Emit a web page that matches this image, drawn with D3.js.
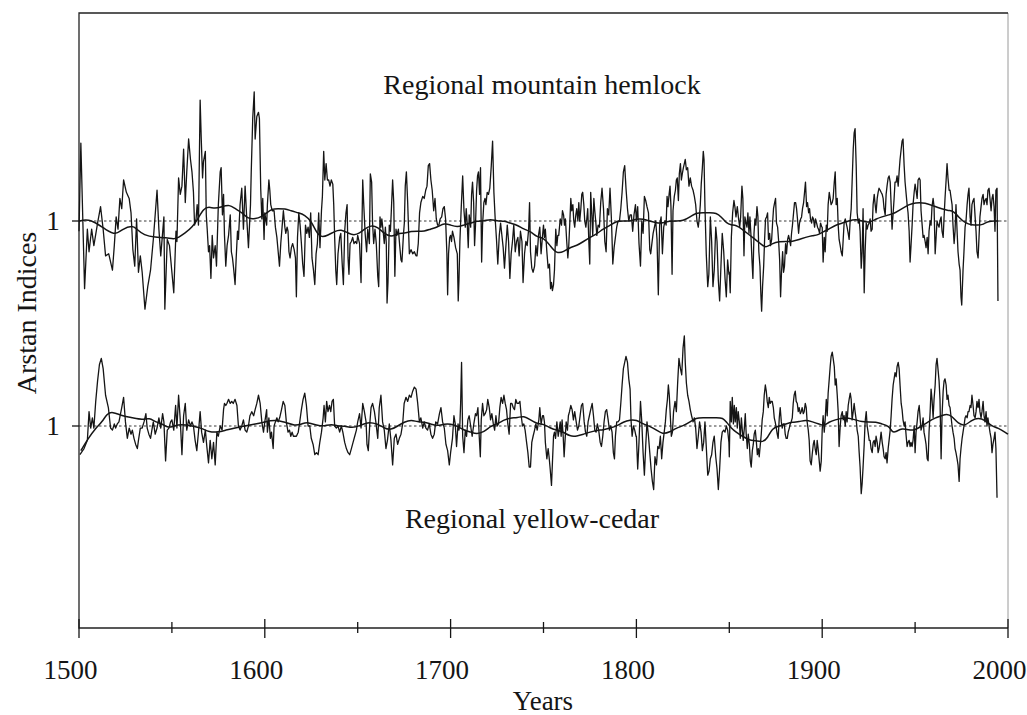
<!DOCTYPE html>
<html><head><meta charset="utf-8">
<script src="https://cdn.jsdelivr.net/npm/d3@7"></script>
<style>body{margin:0;background:#fff}</style>
</head><body>
<svg id="chart" width="1027" height="715"></svg>
<script>
// Regional mountain hemlock Arstan index (year, index)
const hemlockIndex = [
[1500,0.95],[1501,1.38],[1503,0.67],[1504.5,0.96],[1505.4,0.85],[1506.8,0.96],[1508,0.88],[1510,0.99],[1511.6,1.07],[1513,0.96],[1514.3,0.83],[1516,0.84],[1518,0.76],[1519,0.88],[1520,1.02],[1521,0.96],[1522,1.11],[1523,1.06],[1524,1.2],[1525.5,1.14],[1527,1.11],[1528,1.04],[1529,0.86],[1530,0.78],[1531,1.01],[1532,0.75],[1533,0.83],[1534,0.75],[1535.5,0.57],[1537,0.68],[1538.5,0.76],[1540,0.91],[1542,1.15],[1543,0.96],[1544,0.83],[1545.7,1.02],[1546.2,0.57],[1547.5,0.91],[1548.7,0.88],[1550,0.75],[1551,0.65],
[1552.2,0.95],[1552.7,0.9],[1553.6,1.21],[1554.5,1.13],[1555.4,1.17],[1556.3,1.35],[1557.2,1.09],[1558,1.24],[1559,1.4],[1560,1.3],[1560.8,1.24],[1561.6,1.14],[1562.2,0.98],[1563,1.01],[1563.6,1.08],[1564.3,0.98],[1565.2,1.59],[1565.8,1.4],[1566.5,1.21],[1567,1.29],[1568,1.34],[1568.5,1.03],[1569,0.96],[1569.7,0.85],[1570.3,0.88],[1571,0.72],[1571.7,0.93],[1572.4,0.82],[1573.3,0.88],[1574,0.78],[1575,1.08],[1576,1.24],[1576.5,1.26],[1577.2,1.03],[1577.8,1.13],[1578.3,0.93],[1579,0.78],[1579.7,0.88],[1580.5,0.93],[1581.4,1.03],[1582,0.85],[1582.6,0.82],[1583.2,0.77],[1584,0.69],[1584.6,0.82],[1585.3,0.95],[1585.8,0.91],[1586.7,1.08],[1587.6,1.16],[1588.5,0.96],[1589.4,1.17],[1590.3,1.01],[1591.2,0.87],[1592.3,1.08],[1592.7,1.24],[1593.5,1.5],[1594.3,1.63],[1594.8,1.4],[1595.7,1.51],[1596.6,1.53],[1597.1,1.5],[1597.8,1.16],[1598.4,1.01],[1598.9,1.11],[1599.6,0.91],
[1600,1.04],[1601,0.98],[1601.4,1.08],[1602.2,1.2],[1602.7,1.15],[1603.2,1.08],[1604,1.05],[1605,1.05],[1605.7,0.97],[1606.5,0.92],[1607.2,0.85],[1607.9,0.78],[1608.6,0.89],[1609.3,0.97],[1610,1.05],[1610.8,0.97],[1611.3,0.94],[1612,0.97],[1612.5,0.95],[1613,0.85],[1613.6,0.82],[1614.3,0.87],[1615,0.89],[1615.8,0.86],[1616.5,0.82],[1617,0.63],[1617.6,0.92],[1618.3,1.04],[1619,0.98],[1619.7,0.89],[1620.4,0.79],[1621.1,0.73],[1621.9,0.98],[1622.6,0.94],[1623.3,0.97],[1624,0.92],[1624.7,1.04],[1625.4,0.82],[1626.2,0.76],[1626.9,0.69],[1627.6,0.84],[1628.3,0.89],[1629,1.04],[1629.7,0.87],[1630.5,1.05],[1631,1.12],[1631.7,1.34],[1632.3,1.2],[1633,1.28],[1633.7,1.2],[1634.4,1.2],[1635.1,1.17],[1635.8,1.2],[1636.6,1.18],[1637.1,1.08],[1637.6,0.92],[1638.2,0.76],[1638.7,0.69],[1639.4,0.84],[1640.3,0.92],[1640.9,0.94],[1641.6,0.8],[1642.3,0.69],[1643,0.95],[1643.7,1.04],[1644.3,1.08],[1644.8,0.82],[1645.3,0.74],[1645.9,0.89],[1646.6,0.9],[1647.3,0.92],[1648,0.89],[1648.7,0.9],[1649.5,0.89],
[1650,0.93],[1651,0.89],[1651.8,0.7],[1652.7,1.2],[1653.2,1.09],[1654,0.94],[1654.8,0.85],[1655.4,0.96],[1656.3,0.89],[1656.8,1.23],[1657.5,1.19],[1658,0.99],[1658.6,0.89],[1659.3,0.96],[1660,0.89],[1660.8,0.73],[1661.3,0.68],[1662,1.02],[1662.5,0.97],[1663,1.01],[1663.8,0.94],[1664.3,0.89],[1664.9,0.97],[1665.4,0.89],[1665.8,0.6],[1666.3,0.7],[1667,0.98],[1667.6,0.95],[1668.1,1.05],[1668.8,1.2],[1669.4,1.09],[1670,0.73],[1670.6,0.96],[1671.1,0.93],[1671.9,0.96],[1672.6,0.88],[1673.3,0.81],[1673.8,0.8],[1674.6,0.93],[1675.1,0.99],[1675.6,1.17],[1676.2,1.24],[1676.9,1.09],[1677.8,0.84],[1678.7,0.86],[1679.6,0.84],[1680.5,0.85],[1681.4,0.83],[1681.9,0.83],[1682.6,0.89],[1683.3,1.04],[1684,1.09],[1685,1.12],[1685.8,1.11],[1686.6,1.15],[1687.3,1.17],[1688,1.27],[1688.7,1.28],[1689.4,1.2],[1690.1,1.15],[1690.9,1.05],[1691.6,1.11],[1692.3,1.01],[1693,0.98],[1693.7,0.98],[1694.4,1.01],[1695.2,1.02],[1695.9,1.06],[1696.6,1.07],[1697.3,1.01],[1698,0.84],[1698.4,0.64],[1698.9,0.84],[1699.5,0.92],
[1700,0.93],[1700.5,0.9],[1701,0.95],[1701.8,0.92],[1702.7,0.87],[1703.6,0.84],[1704.1,0.61],[1704.5,0.71],[1705,0.9],[1705.7,1.06],[1706.5,1.22],[1707.2,1.05],[1707.9,0.97],[1708.4,1.06],[1709,0.98],[1709.5,0.87],[1710,1.03],[1710.8,0.97],[1711.3,1.13],[1711.8,1.19],[1712.4,1.09],[1712.9,0.88],[1713.4,0.98],[1714,1.15],[1714.5,1.22],[1715,1.24],[1715.6,1.13],[1716.1,1.26],[1716.7,0.8],[1717.2,0.98],[1717.9,1.09],[1718.5,1.11],[1719,1.08],[1719.7,1.14],[1720.4,1.13],[1721.1,1.16],[1721.9,1.27],[1722.6,1.39],[1723.3,1.14],[1724,1.01],[1724.7,0.91],[1725.4,0.79],[1726.2,0.93],[1726.9,0.99],[1727.6,0.93],[1728.3,0.87],[1729,0.77],[1729.7,0.87],[1730.5,0.98],[1731.2,0.9],[1731.9,0.72],[1732.6,0.84],[1733.3,0.9],[1734,0.98],[1734.8,0.85],[1735.5,0.9],[1736.2,0.92],[1736.9,0.83],[1737.6,0.95],[1738.4,0.9],[1739,0.7],[1739.8,0.84],[1740.5,0.9],[1741.2,0.88],[1742,0.96],[1742.5,1.09],[1743,0.85],[1743.7,0.77],[1744.4,0.75],[1745.2,0.78],[1745.9,0.88],[1746.6,0.83],[1747.3,0.93],[1748,0.97],[1748.7,0.84],[1749.5,0.93],
[1750,0.98],[1750.5,0.92],[1751,0.96],[1751.8,0.85],[1752.5,0.77],[1753.2,0.79],[1753.8,0.67],[1754.3,0.7],[1754.8,0.66],[1755.4,0.69],[1755.9,0.76],[1756.6,0.96],[1757.2,0.88],[1757.7,0.93],[1758.2,0.93],[1759,1.01],[1759.7,0.98],[1760.2,1.05],[1760.8,1.03],[1761.3,0.98],[1761.8,1.01],[1762.5,0.9],[1763.1,0.82],[1763.6,0.88],[1764.2,1.0],[1764.7,1.11],[1765.2,1.05],[1765.8,1.08],[1766.3,1.0],[1766.8,0.97],[1767.4,1.03],[1767.9,1.06],[1768.5,1.0],[1769,1.09],[1769.5,1.0],[1770.1,1.06],[1770.6,1.13],[1771.1,1.14],[1771.7,1.08],[1772.2,1.0],[1772.8,0.97],[1773.3,1.01],[1773.8,1.06],[1774.4,0.9],[1774.9,0.79],[1775.4,1.14],[1776,1.03],[1776.5,0.93],[1777.1,1.11],[1777.6,1.05],[1778.1,1.0],[1778.7,0.93],[1779.4,0.98],[1780.1,0.97],[1780.8,1.09],[1781.5,1.16],[1782.3,1.06],[1783,0.9],[1783.7,0.85],[1784.4,1.06],[1785.1,1.03],[1785.8,1.16],[1786.6,1.0],[1787.3,0.79],[1788,0.87],[1788.7,0.92],[1789.4,0.97],[1790.1,1.0],[1790.9,1.0],[1791.6,1.06],[1792.3,1.14],[1793,1.24],[1793.7,1.27],[1794.4,1.16],[1795.2,1.06],[1795.9,1.0],[1796.6,1.03],[1797.3,1.03],[1798,0.95],[1798.7,1.03],[1799.5,1.08],
[1800,1.0],[1800.7,1.07],[1801.4,0.89],[1802.2,0.78],[1802.9,1.0],[1803.6,0.94],[1804.3,1.12],[1805,1.1],[1805.7,1.07],[1806.5,1.04],[1807.2,0.86],[1807.7,0.84],[1808.2,0.88],[1809,0.94],[1809.7,0.97],[1810.4,1.0],[1811.1,0.91],[1811.8,0.64],[1812.5,0.98],[1813.3,1.02],[1814,0.84],[1814.7,0.97],[1815.4,1.0],[1816,0.98],[1816.5,1.12],[1817,1.07],[1817.6,1.13],[1818.1,1.17],[1818.6,1.07],[1819.2,0.74],[1819.7,1.05],[1820.4,1.12],[1821,1.15],[1821.5,1.2],[1822,1.21],[1822.6,1.1],[1823.1,1.23],[1823.7,1.28],[1824.2,1.2],[1824.7,1.23],[1825.3,1.26],[1825.8,1.28],[1826.3,1.3],[1826.9,1.25],[1827.6,1.26],[1828.3,1.17],[1829,1.21],[1829.7,1.17],[1830.5,1.15],[1831.2,1.12],[1831.9,1.08],[1832.6,1.0],[1833.3,0.97],[1833.9,1.02],[1834.4,1.08],[1834.9,1.18],[1835.5,1.26],[1836,1.34],[1836.4,1.3],[1836.9,1.07],[1837.6,0.84],[1838.4,0.68],[1839,0.74],[1839.8,1.02],[1840.5,0.9],[1841.2,0.68],[1841.9,0.76],[1842.7,0.97],[1843.4,0.9],[1844.1,0.71],[1844.8,0.61],[1845.5,0.78],[1846.2,0.94],[1847,0.85],[1847.7,0.72],[1848.4,0.63],[1849.1,0.81],[1849.8,0.74],
[1850,0.75],[1850.5,0.65],[1851.1,0.92],[1851.8,1.04],[1852.5,1.1],[1853,1.07],[1853.6,1.02],[1854.3,1.07],[1855,1.01],[1855.6,0.97],[1856.1,1.02],[1856.8,1.17],[1857.3,1.11],[1857.9,0.83],[1858.4,1.02],[1859,0.99],[1859.5,0.97],[1860,1.04],[1860.6,0.94],[1861.1,1.02],[1861.6,0.94],[1862.2,0.81],[1862.7,0.72],[1863.3,0.94],[1863.8,1.01],[1864.3,0.98],[1864.9,1.07],[1865.4,1.02],[1865.9,0.85],[1866.5,0.78],[1867,0.64],[1867.4,0.56],[1867.9,0.68],[1868.5,0.78],[1869,0.91],[1869.5,1.01],[1870.1,1.02],[1870.6,1.04],[1871.1,0.91],[1871.7,0.94],[1872.2,0.88],[1872.8,0.91],[1873.3,0.99],[1873.8,1.06],[1874.4,1.09],[1874.9,1.11],[1875.4,0.99],[1876,0.97],[1876.5,0.91],[1877.1,0.81],[1877.6,0.63],[1878.1,0.75],[1878.7,0.85],[1879.2,0.75],[1879.7,0.78],[1880.3,0.89],[1880.8,0.84],[1881.4,0.91],[1881.9,0.93],[1882.4,0.91],[1883,0.88],[1883.5,0.94],[1884,0.98],[1884.6,1.04],[1885.1,1.09],[1885.7,1.09],[1886.2,1.06],[1886.7,1.01],[1887.3,0.94],[1887.8,0.99],[1888.4,1.01],[1888.9,1.02],[1889.4,1.06],[1890,1.09],[1890.5,1.14],[1891,1.19],[1891.6,1.07],[1892.1,1.09],[1892.7,1.04],[1893.2,1.06],[1893.7,1.01],[1894.3,0.99],[1894.8,1.02],[1895.3,1.01],[1895.9,0.97],[1896.4,1.01],[1897,0.99],[1897.5,0.97],[1898,0.96],[1898.6,0.94],[1899.1,0.99],[1899.8,0.97],
[1900,0.97],[1900.5,0.8],[1901.1,0.92],[1901.6,0.85],[1902.2,0.98],[1902.7,0.95],[1903.2,1.08],[1903.8,1.14],[1904.3,1.11],[1904.8,1.08],[1905.4,1.09],[1905.9,1.11],[1906.5,1.19],[1907,1.24],[1907.5,1.08],[1908.1,1.11],[1908.6,0.98],[1909.1,0.91],[1909.7,0.88],[1910.2,0.85],[1910.8,0.83],[1911.3,0.91],[1911.8,0.99],[1912.4,1.01],[1912.9,0.99],[1913.4,0.97],[1914,0.94],[1914.5,0.91],[1915.1,1.01],[1915.6,1.06],[1916.1,1.19],[1916.7,1.35],[1917.2,1.43],[1917.7,1.45],[1918.3,1.27],[1918.8,1.04],[1919.4,0.99],[1919.9,1.01],[1920.4,0.95],[1921,0.77],[1921.5,0.85],[1922,1.06],[1922.6,0.65],[1923.1,0.85],[1923.7,0.99],[1924.2,0.96],[1924.7,0.98],[1925.3,0.99],[1925.8,1.01],[1926.3,0.95],[1926.9,0.96],[1927.4,1.08],[1928,1.13],[1928.5,1.08],[1929,1.04],[1929.6,1.11],[1930.1,1.14],[1930.6,1.16],[1931.2,1.15],[1931.7,1.14],[1932.3,1.13],[1932.8,1.11],[1933.3,1.06],[1933.9,1.03],[1934.4,1.13],[1934.9,1.17],[1935.5,1.21],[1936,1.22],[1936.6,1.19],[1937.1,1.08],[1937.6,0.96],[1938.2,1.04],[1938.7,1.11],[1939.2,1.19],[1939.8,1.19],[1940.3,1.22],[1940.9,1.17],[1941.4,1.24],[1941.9,1.3],[1942.5,1.35],[1943,1.39],[1943.5,1.4],[1944.1,1.27],[1944.6,1.19],[1945.2,1.13],[1945.7,1.08],[1946.2,1.04],[1946.8,0.95],[1947.3,0.8],[1947.8,0.88],[1948.4,0.98],[1948.9,1.08],[1949.5,1.14],
[1950,1.18],[1950.5,1.15],[1951.1,1.11],[1951.6,1.2],[1952.2,1.21],[1952.7,1.2],[1953.2,1.05],[1953.8,0.98],[1954.3,0.92],[1954.8,0.93],[1955.4,0.9],[1955.9,0.87],[1956.5,0.92],[1957,0.84],[1957.5,0.95],[1958.1,1.0],[1958.6,0.98],[1959.1,1.07],[1959.7,1.11],[1960.2,1.07],[1960.8,0.84],[1961.3,0.92],[1961.8,1.0],[1962.4,0.98],[1962.9,0.97],[1963.4,1.0],[1964,1.02],[1964.5,0.95],[1965.1,0.92],[1965.6,1.02],[1966.1,1.11],[1966.7,1.2],[1967.2,1.28],[1967.7,1.21],[1968.3,1.15],[1968.8,1.15],[1969.4,1.11],[1969.9,1.08],[1970.4,0.98],[1971,0.89],[1971.5,0.95],[1972,1.08],[1972.6,0.95],[1973.1,0.85],[1973.7,0.79],[1974.2,0.76],[1974.7,0.63],[1975.1,0.59],[1975.8,0.76],[1976.3,0.85],[1976.9,0.97],[1977.4,1.0],[1978,1.08],[1978.5,1.13],[1979,1.16],[1979.6,1.02],[1980.1,0.98],[1980.6,1.08],[1981.2,1.1],[1981.7,1.11],[1982.3,1.02],[1982.8,0.95],[1983.3,0.85],[1983.9,0.82],[1984.4,0.92],[1984.9,1.02],[1985.5,1.07],[1986,1.11],[1986.6,1.13],[1987.1,1.08],[1987.6,1.1],[1988.2,1.11],[1988.7,1.08],[1989.2,1.15],[1989.8,1.16],[1990.3,1.11],[1990.9,1.05],[1991.4,1.11],[1991.9,1.13],[1992.5,1.07],[1993,0.95],[1993.5,1.15],[1994.1,1.16],[1994.6,0.61]
];

// Regional yellow-cedar Arstan index (year, index)
const cedarIndex = [
[1500.5,0.86],[1502.7,0.89],[1504.5,0.93],[1505.4,1.07],[1506.3,0.99],[1507.2,1.04],[1508,0.99],[1509,1.12],[1510,1.22],[1511,1.3],[1512,1.33],[1513,1.28],[1514.3,1.15],[1515.8,1.09],[1517,0.99],[1518,0.98],[1519,1.01],[1519.7,0.99],[1520.6,1.01],[1521.5,1.02],[1523,1.09],[1524,1.14],[1525,1.02],[1526,0.94],[1527,0.99],[1528,0.96],[1528.7,0.98],[1529.6,0.94],[1530.5,0.91],[1531.4,0.89],[1532,0.93],[1533,0.99],[1534,0.99],[1535,1.02],[1536,1.06],[1536.7,0.99],[1537.6,0.96],[1538.5,0.94],[1539.4,0.99],[1540,1.02],[1541,0.96],[1542,0.99],[1543,1.04],[1544,0.99],[1545,1.06],[1545.7,1.02],[1546.6,0.83],[1547.5,0.98],[1548.4,0.99],[1549.3,1.02],
[1550,1.03],[1551,0.98],[1552,1.1],[1552.7,0.99],[1553.6,1.15],[1554.5,1.03],[1555.4,0.86],[1556.3,1.05],[1557.2,1.11],[1558,0.98],[1559,1.03],[1560,1.0],[1560.8,1.02],[1561.6,1.0],[1562.5,0.93],[1563.4,0.88],[1564.3,0.97],[1565.2,1.07],[1566,0.97],[1567,0.92],[1568,0.98],[1568.8,0.9],[1569.7,0.82],[1570.6,0.93],[1571.5,0.84],[1572.4,0.92],[1573.3,0.81],[1574.2,0.97],[1575,0.95],[1576,1.0],[1577,0.98],[1577.8,1.08],[1578.3,1.11],[1579,1.1],[1579.6,1.11],[1580.5,1.13],[1581.4,1.11],[1582.2,1.12],[1583,1.11],[1584,1.13],[1585,1.1],[1585.8,1.0],[1586.7,0.98],[1587.6,1.0],[1588.5,1.03],[1589.4,0.98],[1590.3,0.97],[1591.2,1.0],[1592,1.05],[1593,1.07],[1594,1.05],[1594.8,1.08],[1595.7,1.11],[1596.6,1.15],[1597.5,1.11],[1598.4,1.02],[1599.3,0.97],
[1600,1.02],[1601,1.08],[1601.4,0.97],[1602.2,1.04],[1603,0.94],[1603.6,0.97],[1604.5,0.89],[1605,1.0],[1605.7,1.02],[1606.5,1.04],[1607.2,1.02],[1608,1.04],[1609,1.08],[1609.9,1.12],[1610.8,1.1],[1611.6,1.02],[1612.5,0.97],[1613.3,0.98],[1614,0.95],[1614.7,0.97],[1615.4,0.95],[1616.1,0.95],[1617,0.95],[1618,0.97],[1618.8,1.02],[1619.7,1.08],[1620.6,1.13],[1621.5,1.16],[1622.4,1.1],[1623.3,1.0],[1624.2,1.0],[1625,0.94],[1626,0.91],[1626.9,0.86],[1627.8,0.87],[1628.7,0.86],[1629.6,0.92],[1630.5,0.97],[1631.4,1.04],[1631.9,1.1],[1632.6,1.02],[1633.3,1.12],[1634,1.07],[1634.8,1.1],[1635.5,1.07],[1636.2,1.12],[1636.9,1.13],[1637.6,1.0],[1638.5,0.99],[1639.4,1.0],[1640.3,0.97],[1641.2,1.0],[1642,0.97],[1643,0.92],[1643.9,0.89],[1644.8,0.87],[1645.7,0.86],[1646.6,0.89],[1647.5,0.92],[1648.4,0.95],[1649.3,0.98],
[1650,1.02],[1651,1.06],[1651.8,0.99],[1652.7,1.11],[1653.6,1.07],[1654.5,1.02],[1655,0.91],[1655.7,0.88],[1656.5,1.01],[1657.2,1.09],[1658,1.11],[1659,1.07],[1659.9,1.01],[1660.8,0.94],[1661.6,1.09],[1662.5,1.15],[1663.4,1.02],[1664.3,0.98],[1665.2,0.89],[1666,0.93],[1667,1.01],[1667.9,0.93],[1668.8,0.81],[1669.7,0.94],[1670.6,0.96],[1671.5,0.91],[1672.4,0.94],[1673.3,0.96],[1674.2,1.01],[1675,1.11],[1676,1.14],[1676.9,1.12],[1677.8,1.15],[1678.7,1.14],[1679.6,1.17],[1680.5,1.19],[1681.4,1.18],[1682.3,1.11],[1683.2,1.02],[1684,1.04],[1685,0.99],[1685.8,1.02],[1686.7,0.99],[1687.6,0.98],[1688.5,1.01],[1689.4,0.96],[1690.3,0.94],[1691.2,0.96],[1692,1.02],[1693,1.01],[1694,1.06],[1694.8,1.09],[1695.7,1.02],[1696.6,0.99],[1697.5,0.91],[1698.4,0.88],[1699.3,0.81],
[1700,0.87],[1701,0.94],[1701.8,1.05],[1702.5,1.01],[1703.2,0.9],[1704,1.01],[1704.5,0.98],[1705,1.01],[1705.4,1.11],[1705.9,1.31],[1706.5,0.95],[1707.2,0.87],[1707.9,0.98],[1708.6,0.95],[1709.3,1.03],[1710,1.05],[1710.8,1.0],[1711.6,0.95],[1712.5,1.01],[1713.4,1.06],[1714,1.05],[1714.7,1.09],[1715.4,0.95],[1716,0.85],[1716.5,1.03],[1717.2,1.11],[1717.9,1.05],[1718.6,1.06],[1719.4,1.08],[1720,1.13],[1720.8,1.09],[1721.5,1.03],[1722.2,1.06],[1723,1.01],[1723.7,0.98],[1724.4,1.05],[1725,1.0],[1725.8,1.01],[1726.5,1.09],[1727.2,1.14],[1728,1.11],[1728.7,1.15],[1729.4,1.11],[1730.1,1.08],[1730.8,1.01],[1731.5,0.96],[1732.3,1.11],[1733,1.11],[1733.7,1.09],[1734.4,1.08],[1735.1,1.13],[1735.8,1.11],[1736.6,1.11],[1737.3,1.12],[1738,1.05],[1738.7,1.0],[1739.4,1.01],[1740.1,0.98],[1740.9,0.92],[1741.6,0.87],[1742.3,0.8],[1743,0.8],[1743.7,0.92],[1744.4,0.95],[1745.2,0.98],[1745.9,1.01],[1746.6,0.98],[1747.5,1.03],[1748,1.09],[1748.7,1.01],[1749.5,1.05],
[1750,1.05],[1750.5,1.02],[1751,0.92],[1751.8,0.84],[1752.5,0.89],[1753,0.85],[1753.6,0.79],[1754.3,0.71],[1754.8,0.82],[1755.4,0.95],[1755.9,0.97],[1756.5,0.94],[1757.2,1.02],[1757.9,0.95],[1758.4,0.98],[1759,1.02],[1759.5,0.95],[1760,1.03],[1760.6,0.95],[1761.1,0.85],[1761.6,0.93],[1762.2,1.02],[1762.9,0.98],[1763.4,1.05],[1764,1.07],[1764.7,1.1],[1765.4,1.08],[1766.1,1.03],[1766.8,1.07],[1767.6,1.02],[1768.3,0.98],[1769,1.0],[1769.7,1.05],[1770.4,1.1],[1771.1,1.11],[1771.9,1.02],[1772.6,0.97],[1773.3,0.95],[1774,1.02],[1774.7,1.05],[1775.4,1.08],[1776.2,1.11],[1776.9,1.05],[1777.6,0.98],[1778.3,0.97],[1779,1.01],[1779.7,0.98],[1780.5,0.92],[1781.2,0.9],[1781.9,0.95],[1782.6,1.02],[1783.3,1.07],[1784,1.08],[1784.8,1.03],[1785.5,0.98],[1786.2,1.0],[1786.9,0.97],[1787.6,0.87],[1788.2,0.84],[1788.7,0.95],[1789.4,1.02],[1790.1,1.02],[1790.9,1.03],[1791.6,1.11],[1792.3,1.2],[1793,1.28],[1793.7,1.31],[1794.4,1.34],[1795.2,1.31],[1795.9,1.23],[1796.6,1.18],[1797.1,1.03],[1797.7,0.95],[1798.4,1.0],[1799.1,0.98],[1799.8,0.95],
[1800,0.95],[1800.7,0.79],[1801.4,0.92],[1802.2,1.12],[1802.9,1.02],[1803.6,0.87],[1804.3,0.76],[1805,0.9],[1805.7,1.02],[1806.5,0.95],[1807.2,0.87],[1807.9,0.79],[1808.6,0.73],[1809.3,0.69],[1810,0.85],[1810.8,0.81],[1811.5,0.9],[1812.2,0.89],[1812.9,0.95],[1813.6,0.84],[1814.3,0.92],[1815.1,0.98],[1815.6,1.02],[1816.1,1.08],[1816.7,1.13],[1817.2,1.2],[1817.7,1.15],[1818.3,1.04],[1818.8,0.95],[1819.4,0.97],[1820,1.07],[1820.8,1.12],[1821.5,1.07],[1822.2,1.21],[1822.9,1.33],[1823.7,1.28],[1824.4,1.25],[1825.1,1.38],[1825.8,1.44],[1826.3,1.31],[1826.9,1.21],[1827.6,1.15],[1828.3,1.12],[1829,1.08],[1829.7,1.05],[1830.5,1.02],[1831.2,1.04],[1831.9,0.99],[1832.6,0.89],[1833.3,0.95],[1834,1.02],[1834.8,0.97],[1835.5,0.88],[1836.2,0.92],[1836.9,1.02],[1837.6,0.9],[1838.4,0.76],[1839.1,0.78],[1839.8,0.84],[1840.5,0.86],[1841.2,0.92],[1841.9,0.95],[1842.7,0.85],[1843.4,0.79],[1844.1,0.69],[1844.8,0.79],[1845.5,0.92],[1846.2,0.97],[1847,0.98],[1847.7,0.97],[1848.4,1.0],[1849.1,0.98],[1849.8,0.92],
[1850,0.85],[1850.5,1.12],[1851.1,1.02],[1851.6,1.14],[1852.2,1.01],[1852.7,1.1],[1853.2,1.02],[1853.8,1.09],[1854.3,0.99],[1854.8,1.07],[1855.4,1.02],[1855.9,0.94],[1856.5,1.04],[1857,0.98],[1857.5,0.93],[1858.1,0.99],[1858.6,1.06],[1859.1,0.96],[1859.7,0.89],[1860.2,0.96],[1860.8,0.91],[1861.3,0.83],[1861.8,0.8],[1862.4,0.88],[1862.9,0.91],[1863.4,0.96],[1864,0.98],[1864.5,0.93],[1865.1,0.86],[1865.6,0.89],[1866.1,0.85],[1866.7,0.91],[1867.2,0.96],[1867.7,1.03],[1868.3,1.07],[1868.8,1.15],[1869.4,1.2],[1869.9,1.17],[1870.4,1.12],[1871,1.09],[1871.5,1.14],[1872,1.11],[1872.6,1.12],[1873.1,1.12],[1873.7,1.09],[1874.2,1.04],[1874.7,1.02],[1875.3,0.99],[1875.8,0.96],[1876.3,0.94],[1876.9,1.04],[1877.4,1.09],[1878,1.02],[1878.5,0.99],[1879,1.01],[1879.6,1.01],[1880.1,0.96],[1880.6,0.94],[1881.2,0.94],[1881.7,0.97],[1882.3,0.99],[1882.8,1.01],[1883.3,1.02],[1883.9,1.04],[1884.4,1.11],[1884.9,1.15],[1885.5,1.17],[1886,1.12],[1886.6,1.11],[1887.1,1.07],[1887.6,1.09],[1888.2,1.06],[1888.7,1.07],[1889.2,1.09],[1889.8,1.06],[1890.3,1.07],[1890.9,1.11],[1891.4,1.09],[1891.9,1.02],[1892.5,0.98],[1893,0.93],[1893.5,0.83],[1894.1,0.81],[1894.6,0.86],[1895.2,0.91],[1895.7,0.93],[1896.2,0.89],[1896.8,0.86],[1897.3,0.93],[1897.8,0.89],[1898.4,0.83],[1898.9,0.78],[1899.5,0.83],
[1900,0.98],[1900.5,1.05],[1901.1,0.97],[1901.6,1.03],[1902.2,1.13],[1902.7,1.05],[1903.2,1.16],[1903.8,1.23],[1904.3,1.29],[1904.8,1.34],[1905.4,1.36],[1905.9,1.33],[1906.5,1.29],[1907,1.2],[1907.5,1.23],[1908.1,1.15],[1908.6,1.07],[1909.1,0.9],[1909.7,1.0],[1910.2,1.05],[1910.8,1.07],[1911.3,1.03],[1911.8,1.05],[1912.4,1.0],[1912.9,1.07],[1913.4,1.02],[1914,1.1],[1914.5,1.13],[1915.1,1.16],[1915.6,1.13],[1916.1,1.03],[1916.7,1.07],[1917.2,1.11],[1917.7,1.07],[1918.3,1.03],[1918.8,0.98],[1919.4,0.95],[1919.9,0.87],[1920.4,0.8],[1921,0.67],[1921.5,0.72],[1922,0.8],[1922.6,0.91],[1923.1,1.02],[1923.7,1.07],[1924.2,1.0],[1924.7,0.97],[1925.3,0.93],[1925.8,0.93],[1926.3,0.89],[1926.9,0.87],[1927.4,0.92],[1928,0.93],[1928.5,0.9],[1929,0.95],[1929.6,0.92],[1930.1,0.87],[1930.6,0.89],[1931.2,0.93],[1931.7,0.97],[1932.3,0.92],[1932.8,0.89],[1933.3,0.85],[1933.9,0.84],[1934.4,0.87],[1934.9,0.82],[1935.5,0.89],[1936,0.93],[1936.6,0.98],[1937.1,1.05],[1937.6,1.13],[1938.2,1.2],[1938.7,1.23],[1939.2,1.26],[1939.8,1.24],[1940.3,1.29],[1940.9,1.31],[1941.4,1.28],[1941.9,1.2],[1942.5,1.11],[1943,1.08],[1943.5,1.03],[1944.1,1.0],[1944.6,1.02],[1945.2,0.95],[1945.7,0.9],[1946.2,0.92],[1946.8,0.93],[1947.3,0.9],[1947.8,0.92],[1948.4,0.9],[1948.9,0.93],[1949.5,1.0],
[1950,0.87],[1950.5,0.97],[1951.1,1.02],[1951.6,1.07],[1952.2,1.1],[1952.7,1.04],[1953.2,0.98],[1953.8,1.0],[1954.3,1.04],[1954.8,0.97],[1955.4,0.94],[1955.9,0.91],[1956.5,0.84],[1957,0.83],[1957.5,0.97],[1958.1,1.07],[1958.6,1.18],[1959.1,1.13],[1959.7,1.04],[1960.2,1.13],[1960.8,1.2],[1961.3,1.3],[1961.8,1.33],[1962.4,1.27],[1962.9,1.22],[1963.4,1.13],[1964,0.84],[1964.5,1.05],[1965.1,1.17],[1965.6,1.22],[1966.1,1.23],[1966.7,1.2],[1967.2,1.13],[1967.7,1.15],[1968.3,1.1],[1968.8,1.09],[1969.4,1.04],[1969.9,1.0],[1970.4,0.97],[1971,0.94],[1971.5,0.89],[1972,0.87],[1972.6,0.84],[1973.1,0.81],[1973.7,0.73],[1974.2,0.84],[1974.7,0.89],[1975.3,0.94],[1975.8,0.97],[1976.3,1.0],[1976.9,1.04],[1977.4,1.05],[1978,1.04],[1978.5,1.07],[1979,1.07],[1979.6,1.1],[1980.1,1.09],[1980.6,1.15],[1981.2,1.1],[1981.7,1.05],[1982.3,1.04],[1982.8,1.07],[1983.3,1.12],[1983.9,1.09],[1984.4,1.13],[1984.9,1.07],[1985.5,1.04],[1986,1.07],[1986.6,1.12],[1987.1,1.05],[1987.6,1.02],[1988.2,1.07],[1988.7,1.0],[1989.2,1.04],[1989.8,1.0],[1990.3,0.97],[1990.9,0.94],[1991.4,0.87],[1991.9,0.91],[1992.5,0.94],[1993,0.97],[1993.5,0.89],[1994.1,0.65]
];

// Smoothed (spline) curves (year, index)
const hemlockSpline = [
[1500,1.0],[1505,1.01],[1511,0.98],[1514,0.96],[1520,0.93],[1523,0.96],[1529,0.98],[1531,0.96],[1535,0.93],[1541,0.92],[1547,0.92],[1551,0.91],[1553.6,0.92],[1557,0.94],[1561,0.97],[1564,1.01],[1567,1.06],[1570,1.07],[1573,1.06],[1577,1.07],[1581,1.08],[1584,1.06],[1588,1.04],[1591,1.01],[1595,1.01],[1598,1.02],[1601,1.04],[1604,1.06],[1607,1.06],[1611,1.06],[1614,1.05],[1618,1.04],[1621.5,1.03],[1625,1.0],[1628,0.94],[1630.5,0.92],[1634,0.93],[1637.6,0.95],[1641,0.96],[1645,0.94],[1648,0.93],[1651,0.94],[1653.6,0.96],[1657,0.98],[1661,0.97],[1664,0.94],[1668,0.92],[1671.5,0.94],[1675,0.94],[1679,0.95],[1682,0.95],[1686,0.95],[1689,0.96],[1693,0.97],[1696.6,0.99],[1700,0.98],[1703.6,0.97],[1707,0.98],[1711,0.99],[1714,1.0],[1718,1.0],[1721.5,1.01],[1725,1.0],[1729,1.0],[1732,0.99],[1736,0.98],[1739.4,0.96],[1743,0.95],[1746.6,0.92],[1750,0.92],[1753.6,0.88],[1757,0.84],[1761,0.85],[1764,0.87],[1768,0.88],[1771.5,0.9],[1775,0.92],[1779,0.94],[1782,0.96],[1786,0.98],[1789.4,1.0],[1793,1.0],[1796.6,1.0],[1800,1.01],[1803.6,1.01],[1807,1.0],[1811,0.99],[1814,0.99],[1818,1.0],[1821.5,1.0],[1825,1.0],[1829,1.02],[1832,1.04],[1836,1.04],[1839.4,1.04],[1843,1.04],[1845.7,1.02],[1848.4,0.99],[1851,0.98],[1853.6,0.98],[1857,0.96],[1861,0.93],[1864,0.91],[1868,0.88],[1869.7,0.87],[1873,0.89],[1877,0.9],[1880.5,0.9],[1884,0.9],[1887.6,0.91],[1891,0.92],[1894.8,0.93],[1897.5,0.93],[1901,0.95],[1903.6,0.96],[1907,0.98],[1911,0.99],[1914,1.0],[1918,1.01],[1921.5,1.0],[1925,0.99],[1929,1.01],[1932,1.02],[1936,1.03],[1939.4,1.04],[1943,1.06],[1946.6,1.08],[1950,1.09],[1955.4,1.09],[1960.8,1.07],[1964.3,1.06],[1968,1.05],[1970.6,1.05],[1973.3,1.02],[1977,0.99],[1980.5,0.98],[1984,0.98],[1986,0.98],[1989.4,1.0],[1993,1.0],[1995,1.0]
];
const cedarSpline = [
[1501,0.88],[1505,0.94],[1509,0.99],[1512.5,1.02],[1515,1.06],[1518,1.07],[1523,1.05],[1529,1.04],[1534,1.03],[1538,1.04],[1541,1.02],[1545,1.01],[1548,0.99],[1551,1.0],[1555,1.01],[1561,1.0],[1566,0.99],[1570,0.97],[1575,0.97],[1579,0.98],[1584,0.99],[1589,1.0],[1595,1.01],[1600,1.02],[1605,1.03],[1611,1.02],[1616,1.0],[1620,1.01],[1623,1.02],[1629,1.0],[1632,1.0],[1636,1.01],[1639,1.0],[1643,1.0],[1647,0.99],[1651,1.0],[1655,1.02],[1661,1.01],[1664,0.99],[1668,0.98],[1671.5,1.0],[1675,1.02],[1679,1.03],[1682,1.02],[1686,1.02],[1689,1.01],[1693,1.0],[1696.6,1.01],[1700,1.01],[1703.6,1.0],[1707,0.98],[1711,0.97],[1714,0.96],[1718,0.97],[1721.5,1.0],[1725,1.01],[1729,1.03],[1732,1.04],[1736,1.04],[1739.4,1.05],[1743,1.03],[1746.6,1.01],[1750,1.01],[1753.6,0.99],[1757,0.98],[1761,0.97],[1764,0.95],[1768,0.95],[1771.5,0.96],[1775,0.97],[1779,0.98],[1782,0.98],[1786,0.99],[1789.4,1.0],[1793,1.02],[1796.6,1.03],[1800,1.03],[1803.6,1.01],[1807,1.0],[1811,0.98],[1814,0.96],[1818,0.97],[1821.5,0.99],[1825,1.0],[1829,1.02],[1832,1.04],[1836,1.04],[1839.4,1.04],[1843,1.04],[1846.6,1.04],[1848.4,1.02],[1851,0.99],[1853.6,0.97],[1857,0.95],[1861,0.93],[1864,0.93],[1868,0.92],[1870.6,0.94],[1873,0.99],[1877,1.0],[1880.5,1.01],[1884,1.02],[1887.6,1.02],[1891,1.03],[1894.8,1.02],[1898.4,1.01],[1901,1.0],[1903.6,1.02],[1907,1.03],[1911,1.04],[1914,1.04],[1918,1.03],[1921.5,1.02],[1925,1.02],[1929,1.02],[1932,1.01],[1936,1.0],[1937.6,0.97],[1939.4,0.97],[1943,0.99],[1946.6,0.98],[1950,0.98],[1953.6,1.0],[1957,1.02],[1960.8,1.04],[1964.3,1.05],[1967,1.06],[1969.7,1.05],[1973.3,1.01],[1977,1.0],[1980.5,1.03],[1984,1.04],[1987.6,1.03],[1991,1.0],[1994.8,0.99],[1998.4,0.97],[2000,0.96]
];

const xTickYears = [1500,1550,1600,1650,1700,1750,1800,1850,1900,1950,2000];
const xLabelYears = [1500,1600,1700,1800,1900,2000];
const yTickLabels = ["1","1"];
const referenceIndex = 1;
const hemlockOffset = 1;   // hemlock is stacked one index unit above the cedar
const cedarOffset = 0;

const svg = d3.select("#chart");
const pL = 79, pR = 1008, pT = 13, pB = 628;

const x = d3.scaleLinear().domain([1500, 2000]).range([pL, pR]);
const y = d3.scaleLinear().domain([0, 3]).range([631, 16]);

const ink = "#151515";
const serif = "'Liberation Serif','Times New Roman',Times,serif";

// frame: strong left/top/bottom, faint right edge (as in the scanned figure)
svg.append("line").attr("x1", pR).attr("x2", pR).attr("y1", pT).attr("y2", pB)
  .attr("stroke", "#9a9a9a").attr("stroke-width", 1);
svg.append("path").attr("d", `M${pR},${pT}H${pL}V${pB}H${pR}`)
  .attr("fill", "none").attr("stroke", "#222").attr("stroke-width", 1.3);

// x axis ticks (crossing the axis line)
svg.append("g").selectAll("line").data(xTickYears).join("line")
  .attr("x1", d => x(d)).attr("x2", d => x(d))
  .attr("y1", d => d % 100 === 0 ? pB - 9 : pB - 6)
  .attr("y2", d => d % 100 === 0 ? pB + 10 : pB + 5)
  .attr("stroke", ink).attr("stroke-width", 1.3);

// x labels via d3 axis
const xAxis = d3.axisBottom(x).tickValues(xLabelYears).tickSize(0).tickPadding(0).tickFormat(d3.format("d"));
const gx = svg.append("g").attr("transform", `translate(0,${pB})`).call(xAxis);
gx.select(".domain").remove();
gx.selectAll("text").attr("font-family", serif).attr("font-size", 27).attr("fill", ink)
  .attr("dy", null).attr("y", 51).attr("dx", -9);

// reference lines at index 1
const refLevels = [referenceIndex + hemlockOffset, referenceIndex + cedarOffset];
svg.append("g").selectAll("line").data(refLevels).join("line")
  .attr("x1", pL).attr("x2", pR).attr("y1", d => y(d)).attr("y2", d => y(d))
  .attr("stroke", "#222").attr("stroke-width", 0.9).attr("stroke-dasharray", "2.5,2.5");
svg.append("g").selectAll("line").data(refLevels).join("line")
  .attr("x1", pL - 7).attr("x2", pL).attr("y1", d => y(d)).attr("y2", d => y(d))
  .attr("stroke", ink).attr("stroke-width", 1.3);
svg.append("g").selectAll("text").data(refLevels).join("text")
  .attr("x", 53).attr("y", d => y(d) + 9).attr("text-anchor", "middle")
  .attr("font-family", serif).attr("font-size", 27).attr("fill", ink)
  .text((d, i) => yTickLabels[i]);

// series
const rawLine = off => d3.line().x(d => x(d[0])).y(d => y(d[1] + off));
const smoothLine = off => d3.line().curve(d3.curveBasis).x(d => x(d[0])).y(d => y(d[1] + off));

svg.append("path").datum(hemlockIndex).attr("d", rawLine(hemlockOffset))
  .attr("fill", "none").attr("stroke", ink).attr("stroke-width", 1.3).attr("stroke-linejoin", "round");
svg.append("path").datum(cedarIndex).attr("d", rawLine(cedarOffset))
  .attr("fill", "none").attr("stroke", ink).attr("stroke-width", 1.3).attr("stroke-linejoin", "round");
svg.append("path").datum(hemlockSpline).attr("d", smoothLine(hemlockOffset))
  .attr("fill", "none").attr("stroke", ink).attr("stroke-width", 1.5);
svg.append("path").datum(cedarSpline).attr("d", smoothLine(cedarOffset))
  .attr("fill", "none").attr("stroke", ink).attr("stroke-width", 1.5);

// labels
svg.append("text").attr("x", 542).attr("y", 94).attr("text-anchor", "middle")
  .attr("font-family", serif).attr("font-size", 28).attr("fill", ink).text("Regional mountain hemlock");
svg.append("text").attr("x", 532).attr("y", 528).attr("text-anchor", "middle")
  .attr("font-family", serif).attr("font-size", 28).attr("fill", ink).text("Regional yellow-cedar");
svg.append("text").attr("x", 543).attr("y", 710).attr("text-anchor", "middle")
  .attr("font-family", serif).attr("font-size", 27).attr("fill", ink).text("Years");
svg.append("text").attr("transform", "translate(36,313) rotate(-90)").attr("text-anchor", "middle")
  .attr("font-family", serif).attr("font-size", 28).attr("fill", ink).text("Arstan Indices");
</script>
</body></html>
